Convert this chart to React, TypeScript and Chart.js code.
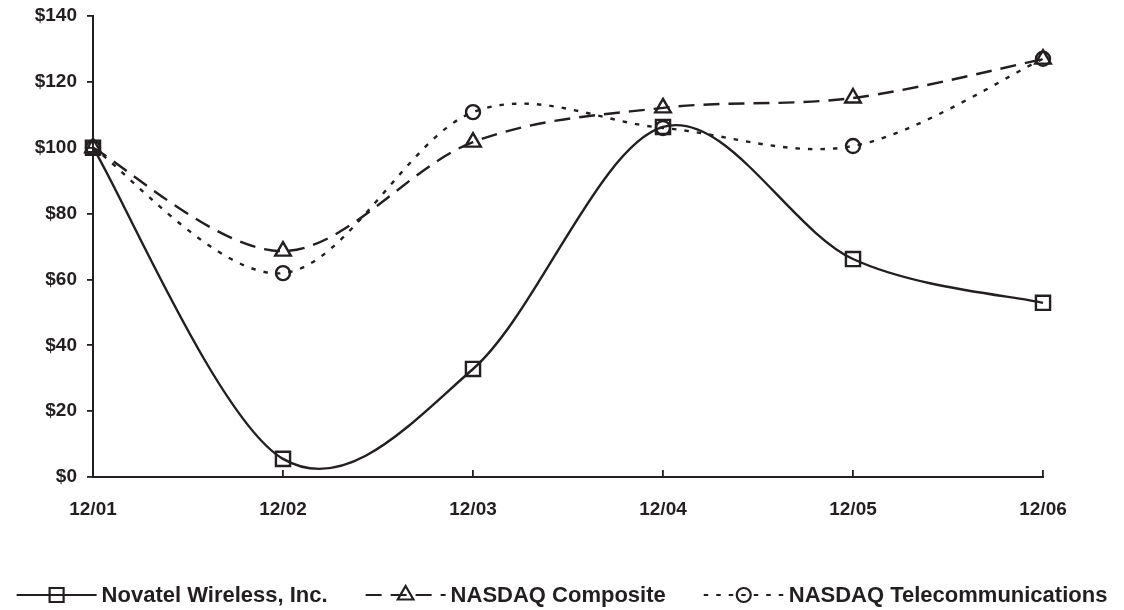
import React, { useEffect, useRef } from "react";
import { Chart, registerables } from "chart.js";

Chart.register(...registerables);

const categories = ["12/01", "12/02", "12/03", "12/04", "12/05", "12/06"];
const novatel = [100, 5.5, 32.8, 106.3, 66.2, 52.9];
const composite = [100, 68.6, 101.7, 112.1, 115.1, 126.9];
const telecom = [100, 61.9, 110.8, 106.0, 100.5, 127.0];
const seriesNames = ["Novatel Wireless, Inc.", "NASDAQ Composite", "NASDAQ Telecommunications"];
const yMin = 0;
const yMax = 140;
const yStep = 20;

const INK = "#231f20";
const FONT = "'Liberation Sans', Arial, Helvetica, sans-serif";

function drawMarker(ctx: CanvasRenderingContext2D, style: string, x: number, y: number) {
  ctx.beginPath();
  if (style === "rect") {
    ctx.rect(x - 7, y - 7, 14, 14);
  } else if (style === "triangle") {
    const r = 9;
    ctx.moveTo(x, y - r);
    ctx.lineTo(x + r * 0.866, y + r * 0.5);
    ctx.lineTo(x - r * 0.866, y + r * 0.5);
    ctx.closePath();
  } else {
    ctx.arc(x, y, 7, 0, Math.PI * 2);
  }
  ctx.stroke();
}

// Spreadsheet-style smoothing: uniform Catmull-Rom control points (1/6 of neighbour span)
const smoothPlugin = {
  id: "uniformSmooth",
  beforeDatasetsDraw(chart: any) {
    chart.getSortedVisibleDatasetMetas().forEach((meta: any) => {
      const pts = meta.data;
      const n = pts.length;
      for (let i = 0; i < n; i++) {
        const p = pts[i];
        const prev = pts[Math.max(0, i - 1)];
        const next = pts[Math.min(n - 1, i + 1)];
        const dx = (next.x - prev.x) / 6;
        const dy = (next.y - prev.y) / 6;
        p.cp1x = p.x - dx;
        p.cp1y = p.y - dy;
        p.cp2x = p.x + dx;
        p.cp2y = p.y + dy;
      }
      if (meta.dataset) meta.dataset._pointsUpdated = true;
    });
  },
};

const legendPlugin = {
  id: "customLegend",
  afterDraw(chart: any) {
    const ctx: CanvasRenderingContext2D = chart.ctx;
    const y = 595;
    ctx.save();
    ctx.font = `bold 22px ${FONT}`;
    const sampleW = 80;
    const gapT = 5;
    const gapItem = 38;
    const dsets = chart.data.datasets;
    const widths = dsets.map((ds: any) => ctx.measureText(ds.label).width);
    const total = widths.reduce((a: number, b: number) => a + b, 0) + dsets.length * (sampleW + gapT) + (dsets.length - 1) * gapItem;
    let x = (chart.width - total) / 2;
    dsets.forEach((ds: any, i: number) => {
      ctx.strokeStyle = ds.borderColor;
      ctx.lineWidth = 2.2;
      ctx.setLineDash(ds.borderDash || []);
      ctx.beginPath();
      ctx.moveTo(x, y);
      ctx.lineTo(x + sampleW, y);
      ctx.stroke();
      ctx.setLineDash([]);
      drawMarker(ctx, ds.pointStyle, x + sampleW / 2, y);
      ctx.fillStyle = INK;
      ctx.textBaseline = "middle";
      ctx.textAlign = "left";
      ctx.fillText(ds.label, x + sampleW + gapT, y + 1);
      x += sampleW + gapT + widths[i] + gapItem;
    });
    ctx.restore();
  },
};

export default function App() {
  const ref = useRef<HTMLCanvasElement | null>(null);
  useEffect(() => {
    if (!ref.current) return;
    const common = {
      borderColor: INK,
      borderWidth: 2.4,
      pointBorderColor: INK,
      pointBackgroundColor: "rgba(0,0,0,0)",
      pointBorderWidth: 2.4,
      tension: 0.4,
      fill: false,
      clip: false as any,
    };
    const chart = new Chart(ref.current, {
      type: "line",
      data: {
        labels: categories,
        datasets: [
          { ...common, label: seriesNames[0], data: novatel, pointStyle: "rect", pointRadius: 10 },
          { ...common, label: seriesNames[1], data: composite, pointStyle: "triangle", pointRadius: 9, borderDash: [16, 9] },
          { ...common, label: seriesNames[2], data: telecom, pointStyle: "circle", pointRadius: 7, borderDash: [4.5, 8] },
        ],
      },
      options: {
        responsive: false,
        animation: false,
        elements: { line: { capBezierPoints: false } },
        layout: { padding: { top: 16, right: 81, left: 0, bottom: 0 } },
        plugins: { legend: { display: false }, tooltip: { enabled: false } },
        scales: {
          x: {
            offset: false,
            grid: { display: true, drawOnChartArea: false, drawTicks: true, tickLength: -7, color: INK, lineWidth: 1.8 },
            border: { display: true, color: INK, width: 2 },
            ticks: { color: INK, font: { family: FONT, size: 19, weight: "bold" }, padding: 28, maxRotation: 0 },
            afterFit: (s: any) => { s.height = 133; },
          },
          y: {
            min: yMin,
            max: yMax,
            grid: { display: true, drawOnChartArea: false, drawTicks: true, tickLength: 6, color: INK, lineWidth: 1.8 },
            border: { display: true, color: INK, width: 2 },
            ticks: {
              stepSize: yStep,
              color: INK,
              font: { family: FONT, size: 19, weight: "bold" },
              padding: 10,
              callback: (v: any) => `$${v}`,
            },
            afterFit: (s: any) => { s.width = 93; s.paddingTop = 0; s.paddingBottom = 0; },
          },
        },
      },
      plugins: [smoothPlugin, legendPlugin],
    });
    return () => chart.destroy();
  }, []);
  return (
    <div style={{ position: "absolute", left: 0, top: 0, width: 1124, height: 610, background: "#fff" }}>
      <canvas ref={ref} width={1124} height={610} style={{ width: 1124, height: 610 }} />
    </div>
  );
}
